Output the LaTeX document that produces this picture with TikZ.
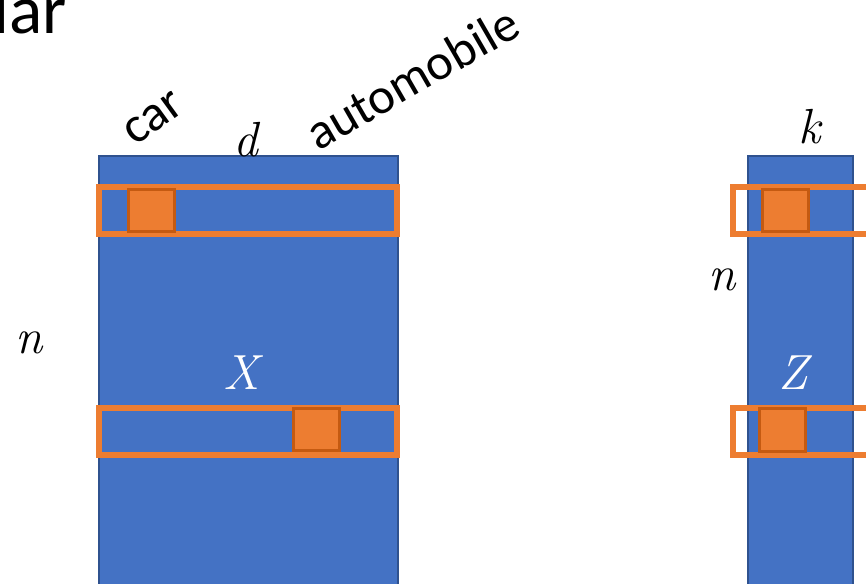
\documentclass[tikz,border=0pt]{standalone}
\usepackage{fontspec}
\setmainfont{Carlito}
\newfontfamily\symfont{Latin Modern Roman}

\definecolor{matblue}{RGB}{68,114,196}
\definecolor{matedge}{RGB}{47,82,143}
\definecolor{hlorange}{RGB}{237,125,49}
\definecolor{hledge}{RGB}{197,90,17}

\tikzset{every picture/.style={line width=0.75pt}}

\begin{document}
\begin{tikzpicture}[x=0.75pt,y=0.75pt,yscale=-1,xscale=1,
  mat/.style={draw=matedge, fill=matblue, line width=1.5pt},
  rowbox/.style={draw=hlorange, line width=4.5pt},
  cellbox/.style={draw=hledge, fill=hlorange, line width=2.25pt},
  word/.style={font=\fontsize{38}{42}\selectfont, inner sep=0pt},
  sym/.style={font=\symfont\itshape\fontsize{37}{42}\selectfont, inner sep=0pt}]
\useasboundingbox (0,0) rectangle (866,584);
\clip (0,0) rectangle (866,584);

%Shape: Rectangle [matrix X]
\draw [mat] (99,156) rectangle (398,600);
%Shape: Rectangle [matrix Z]
\draw [mat] (748,156) rectangle (853,600);

%Shape: Rectangle [rows]
\draw [rowbox] (99,187) rectangle (397,234);
\draw [rowbox] (99,408) rectangle (397,455);
\draw [rowbox] (733,187) rectangle (880,234);
\draw [rowbox] (733,408) rectangle (880,455);

%Shape: Square [cells]
\draw [cellbox] (128.5,189.5) rectangle (174.5,231.5);
\draw [cellbox] (293.5,408.5) rectangle (339.5,450.5);
\draw [cellbox] (762.5,189.5) rectangle (808.5,231.5);
\draw [cellbox] (759.5,408.5) rectangle (805.5,451.5);

% Text Node
\node [font=\fontsize{52}{58}\selectfont, anchor=base west, inner sep=0pt] (title) at (-7,34) {lar};
\node [word, rotate=36, anchor=base west] (car) at (135,147) {car};
\node [word, rotate=30, anchor=base west] (auto) at (318,152) {automobile};
\node [sym] (dlab) at (246,140) {d};
\node [sym] (klab) at (810,127) {k};
\node [sym] (nlab) at (29,343) {n};
\node [sym] (nlabz) at (722,280) {n};
\node [sym, text=white] (xlab) at (241,373) {X};
\node [sym, text=white] (zlab) at (793,373) {Z};

\end{tikzpicture}
\end{document}
